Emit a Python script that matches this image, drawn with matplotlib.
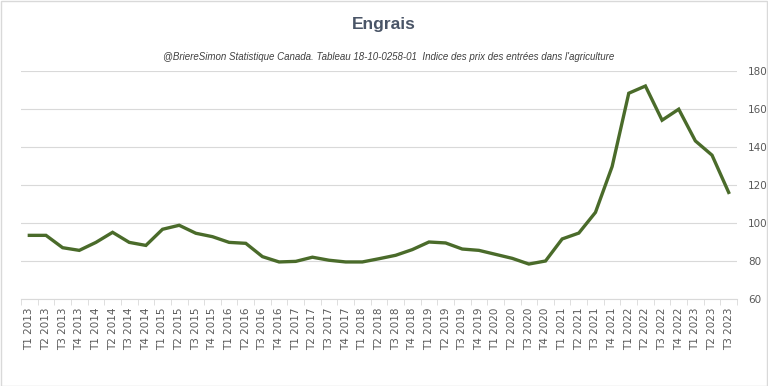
import matplotlib.pyplot as plt
import numpy as np

# quarters T1 2013 .. T3 2023
quarters = [f"T{q} {y}" for y in range(2013, 2024) for q in range(1, 5)][:43]
indice = [93.5, 93.5, 87.0, 85.6, 89.8, 95.1, 89.8, 88.2, 96.7, 98.8,
          94.6, 92.8, 89.8, 89.3, 82.3, 79.5, 79.8, 82.0, 80.4, 79.5,
          79.5, 81.2, 83.0, 86.0, 90.0, 89.5, 86.3, 85.6, 83.5, 81.4,
          78.4, 80.0, 91.6, 94.7, 105.6, 129.7, 168.3, 172.1, 154.1, 159.9,
          143.2, 135.7, 116.1]

grey = "#595959"
fig = plt.figure(figsize=(7.68, 3.86), dpi=100)
ax = fig.add_axes([21 / 768, 1 - 299 / 386, (737 - 21) / 768, (299 - 71) / 386])

x = np.arange(len(indice))
ax.plot(x, indice, color="#4a6b2a", linewidth=2.4, solid_joinstyle="miter")

ax.set_xlim(-0.5, len(indice) - 0.5)
ax.set_ylim(60, 180)
ax.set_yticks(range(60, 181, 20))
ax.yaxis.tick_right()
ax.grid(axis="y", color="#d9d9d9", linewidth=0.8)
ax.set_axisbelow(True)

ax.set_xticks(x)
ax.set_xticklabels(quarters, rotation=90, fontsize=7.5, color=grey)
ax.set_xticks(np.arange(-0.5, len(indice)), minor=True)
ax.tick_params(axis="x", which="major", length=0, pad=6)
ax.tick_params(axis="x", which="minor", length=4, color="#d9d9d9")
ax.tick_params(axis="y", length=0, labelsize=7.5, labelcolor=grey, pad=8)

for s in ["top", "left", "right"]:
    ax.spines[s].set_visible(False)
ax.spines["bottom"].set_color("#d9d9d9")

fig.text(0.5, 1 - 25 / 386, "Engrais", ha="center", va="center",
         fontsize=12.5, fontweight="bold", color="#4a5567",
         family="Liberation Sans")
fig.text(389 / 768, 1 - 57 / 386,
         "@BriereSimon Statistique Canada. Tableau 18-10-0258-01  Indice des prix des entrées dans l'agriculture",
         ha="center", va="center", fontsize=7, style="italic", color="#404040",
         family="Liberation Sans")

fig.patches.append(plt.Rectangle((0.5 / 768, 0.5 / 386), 1 - 1.5 / 768, 1 - 1.5 / 386,
                                 transform=fig.transFigure, fill=False,
                                 edgecolor="#d9d9d9", linewidth=1))

fig.savefig("out.png", dpi=100)
